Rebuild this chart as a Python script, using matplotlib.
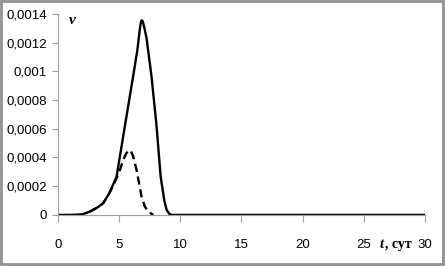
import matplotlib.pyplot as plt
from matplotlib.ticker import FuncFormatter
from matplotlib.patches import Rectangle

# solid curve
t_solid = [0, 1, 2, 2.6, 3.2, 3.7, 4.2, 4.8, 5.48, 6.16, 6.5, 6.65, 6.76, 6.84,
           6.93, 7.05, 7.25, 7.66, 8.07, 8.4, 8.7, 8.89, 9.1, 9.3, 10, 15, 20, 25, 30]
v_solid = [0, 0, 0.000004, 0.000023, 0.00005, 0.000081, 0.00015, 0.000267, 0.00062, 0.00097,
           0.00115, 0.00126, 0.00133, 0.001355,
           0.00135, 0.00131, 0.00123, 0.00096, 0.000615, 0.000267, 0.0001, 0.000035, 0.000008, 0,
           0, 0, 0, 0, 0]

# dashed curve
t_dash = [2.6, 3.2, 3.7, 4.2, 4.8, 5.1, 5.34, 5.6, 5.8, 5.95, 6.15, 6.43, 6.84, 7.1, 7.38, 7.8]
v_dash = [0.000023, 0.00005, 0.000081, 0.00015, 0.000255, 0.00032, 0.000383, 0.00043, 0.00045,
          0.000448, 0.00041, 0.000314, 0.000128, 0.00006, 0.000023, 0.0]

x_ticks = [0, 5, 10, 15, 20, 25, 30]
y_ticks = [0, 0.0002, 0.0004, 0.0006, 0.0008, 0.001, 0.0012, 0.0014]

plt.rcParams['font.family'] = ['Liberation Sans Narrow', 'Liberation Sans', 'DejaVu Sans']

fig = plt.figure(figsize=(4.45, 2.67), dpi=100)
ax = fig.add_axes([0.130, 0.195, 0.825, 0.753])

ax.plot(t_solid, v_solid, color='black', linewidth=1.7, solid_joinstyle='round')
ax.plot(t_dash, v_dash, color='black', linewidth=1.7, linestyle=(0, (3.5, 2)))

ax.set_xlim(0, 30)
ax.set_ylim(0, 0.0014)
ax.set_xticks(x_ticks)
ax.set_yticks(y_ticks)
ax.yaxis.set_major_formatter(FuncFormatter(lambda v, p: ('%g' % v).replace('.', ',') if v != 0 else '0'))

for s in ['top', 'right']:
    ax.spines[s].set_visible(False)
for s in ['left', 'bottom']:
    ax.spines[s].set_color('#a0a0a0')
    ax.spines[s].set_linewidth(0.8)
ax.tick_params(axis='both', colors='#a0a0a0', labelcolor='black', labelsize=9.5, width=0.8)
ax.tick_params(axis='y', length=4, pad=4)
ax.tick_params(axis='x', length=5, pad=12)

fig.text(0.155, 0.925, 'v', family='Liberation Serif', style='italic', fontweight='bold',
         fontsize=11, ha='left', va='center')
fig.text(0.853, 0.085, 't', family='Liberation Serif', style='italic', fontweight='bold',
         fontsize=10.5, ha='left', va='center')
fig.text(0.866, 0.085, ', сут', family='Liberation Serif', fontweight='bold',
         fontsize=10, ha='left', va='center')

fig.patches.append(Rectangle((0.003, 0.01), 0.992, 0.985, transform=fig.transFigure,
                             fill=False, edgecolor='#909090', linewidth=2))

fig.savefig('out.png', dpi=100)
